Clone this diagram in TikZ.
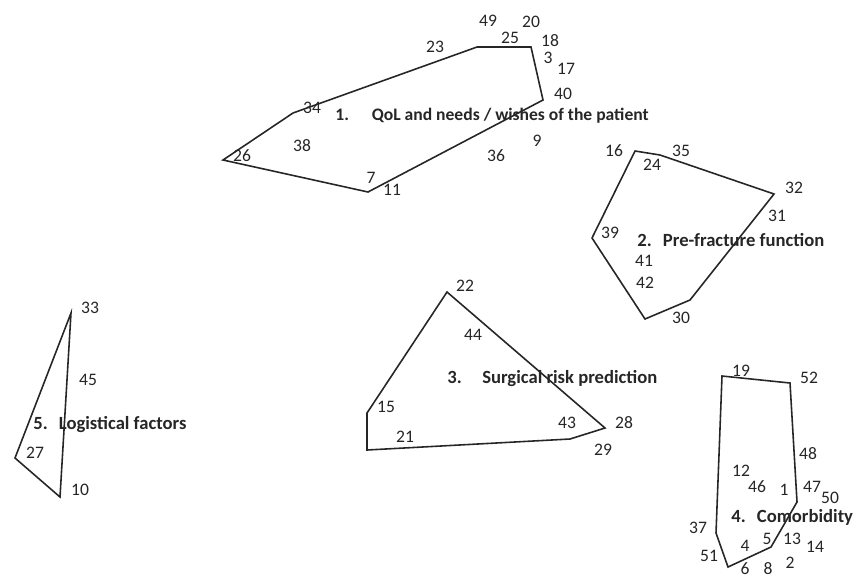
\documentclass[tikz,border=0pt]{standalone}
\usepackage{fontspec}
\setmainfont{Carlito}
\usetikzlibrary{positioning}

\begin{document}
\begin{tikzpicture}[
    x=0.02cm, y=-0.02cm,
    hull/.style={draw=black!85, line width=0.9pt, line join=miter},
    num/.style={font=\fontsize{10}{12}\selectfont, text=black!85, inner sep=0pt},
    theme/.style={font=\bfseries\fontsize{10.6}{12}\selectfont, text=black!85, inner sep=0pt, anchor=west}
]
\useasboundingbox (0,0) rectangle (857,579);

% theme 1
\coordinate (a1) at (223,160);
\coordinate (a2) at (293,113);
\coordinate (a3) at (477,47);
\coordinate (a4) at (531,47);
\coordinate (a5) at (543,100);
\coordinate (a6) at (368,192);
\draw[hull] (a1) -- (a2) -- (a3) -- (a4) -- (a5) -- (a6) -- cycle;
\node[theme, font=\bfseries\fontsize{10}{12}\selectfont] (t1) at (335,116) {1.\hspace{1.3em}QoL and needs / wishes of the patient};
\node[num] (n49) at (488,21) {49};
\node[num] (n20) at (531,22) {20};
\node[num] (n25) at (510,38) {25};
\node[num] (n18) at (550,41) {18};
\node[num] (n3) at (548,58) {3};
\node[num] (n17) at (566,69) {17};
\node[num] (n23) at (435,47) {23};
\node[num] (n40) at (563,94) {40};
\node[num] (n34) at (312,108) {34};
\node[num] (n38) at (302,146) {38};
\node[num] (n26) at (242,156) {26};
\node[num] (n7) at (371,178) {7};
\node[num] (n11) at (392,190) {11};
\node[num] (n36) at (496,156) {36};
\node[num] (n9) at (537,141) {9};

% theme 2
\coordinate (b1) at (635,151);
\coordinate (b2) at (660,155);
\coordinate (b3) at (774,194);
\coordinate (b4) at (690,300);
\coordinate (b5) at (645,319);
\coordinate (b6) at (592,238);
\draw[hull] (b1) -- (b2) -- (b3) -- (b4) -- (b5) -- (b6) -- cycle;
\node[theme] (t2) at (637,240) {2.\hspace{0.6em}Pre-fracture function};
\node[num] (n16) at (614,151) {16};
\node[num] (n35) at (681,151) {35};
\node[num] (n24) at (652,165) {24};
\node[num] (n32) at (794,188) {32};
\node[num] (n31) at (777,216) {31};
\node[num] (n39) at (610,233) {39};
\node[num] (n41) at (644,261) {41};
\node[num] (n42) at (645,283) {42};
\node[num] (n30) at (681,318) {30};

% theme 3
\coordinate (c1) at (447,292);
\coordinate (c2) at (605,428);
\coordinate (c3) at (570,439);
\coordinate (c4) at (367,450);
\coordinate (c5) at (367,413);
\draw[hull] (c1) -- (c2) -- (c3) -- (c4) -- (c5) -- cycle;
\node[theme] (t3) at (447,379) {3.\hspace{1.1em}Surgical risk prediction};
\node[num] (n22) at (465,286) {22};
\node[num] (n44) at (473,335) {44};
\node[num] (n15) at (386,407) {15};
\node[num] (n21) at (405,437) {21};
\node[num] (n43) at (567,423) {43};
\node[num] (n28) at (624,423) {28};
\node[num] (n29) at (603,450) {29};

% theme 4
\coordinate (d1) at (722,376);
\coordinate (d2) at (790,383);
\coordinate (d3) at (797,502);
\coordinate (d4) at (771,547);
\coordinate (d5) at (728,567);
\coordinate (d6) at (716,533);
\draw[hull] (d1) -- (d2) -- (d3) -- (d4) -- (d5) -- (d6) -- cycle;
\node[theme] (t4) at (731,517) {4.\hspace{0.6em}Comorbidity};
\node[num] (n19) at (741,371) {19};
\node[num] (n52) at (809,378) {52};
\node[num] (n48) at (808,454) {48};
\node[num] (n12) at (741,471) {12};
\node[num] (n46) at (757,487) {46};
\node[num] (n1) at (784,490) {1};
\node[num] (n47) at (812,487) {47};
\node[num] (n50) at (830,498) {50};
\node[num] (n37) at (698,528) {37};
\node[num] (n13) at (792,539) {13};
\node[num] (n14) at (815,547) {14};
\node[num] (n51) at (709,556) {51};
\node[num] (n4) at (745,546) {4};
\node[num] (n5) at (767,539) {5};
\node[num] (n2) at (790,563) {2};
\node[num] (n6) at (745,569) {6};
\node[num] (n8) at (768,569) {8};

% theme 5
\coordinate (e1) at (71,313);
\coordinate (e2) at (60,497);
\coordinate (e3) at (15,458);
\draw[hull] (e1) -- (e2) -- (e3) -- cycle;
\node[theme] (t5) at (33,425) {5.\hspace{0.6em}Logistical factors};
\node[num] (n33) at (90,308) {33};
\node[num] (n45) at (88,380) {45};
\node[num] (n27) at (35,453) {27};
\node[num] (n10) at (80,490) {10};

\end{tikzpicture}
\end{document}
